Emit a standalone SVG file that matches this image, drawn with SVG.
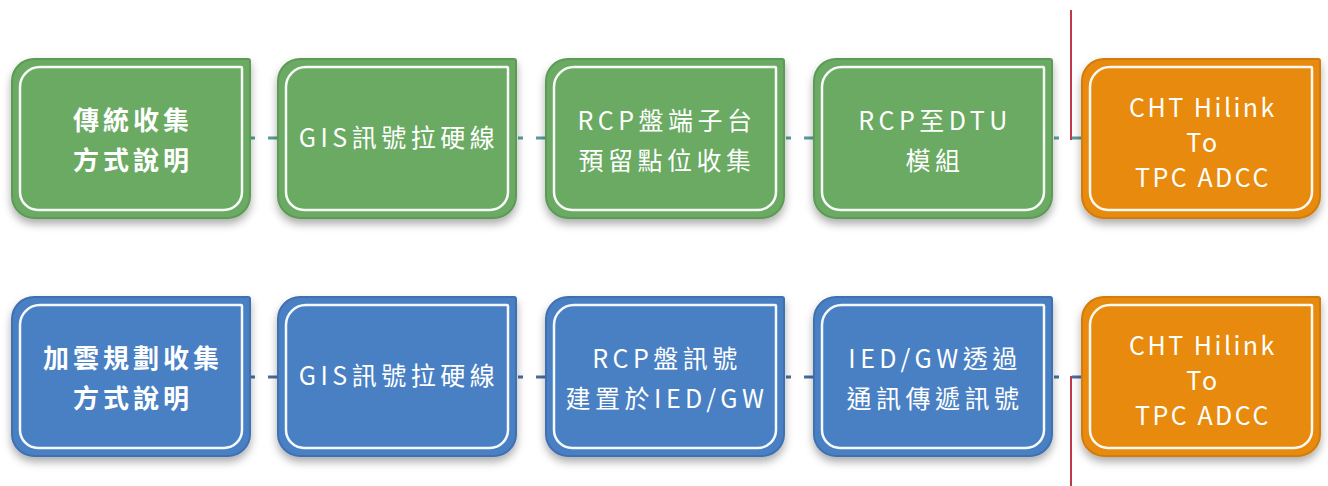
<svg xmlns="http://www.w3.org/2000/svg" width="1328" height="486" viewBox="0 0 1328 486">
<defs>
<filter id="sh" x="-10%" y="-10%" width="120%" height="130%">
<feDropShadow dx="0" dy="5" stdDeviation="4" flood-color="#000" flood-opacity="0.32"/>
</filter>
<path id="outer" d="M22,0 H236 Q238,0 238,2 V137 A22,22 0 0 1 216,159 H22 A22,22 0 0 1 0,137 V22 A22,22 0 0 1 22,0 Z"/>
<path id="inner" d="M28,8 H229 Q230,8 230,9 V133 A18,18 0 0 1 212,151 H26 A18,18 0 0 1 8,133 V28 A20,20 0 0 1 28,8 Z"/>
</defs>
<style>
.g{fill:#6aaa64;stroke:#5d9a57;stroke-width:2}
.b{fill:#4a80c4;stroke:#3f70b0;stroke-width:2}
.o{fill:#e88a0e;stroke:#d27b08;stroke-width:2}
.in{fill:none;stroke:#fff;stroke-width:2.5;opacity:0.95}
text{font-family:"Noto Sans CJK TC","Noto Sans",sans-serif;font-size:25px;fill:#fff;text-anchor:middle;letter-spacing:4.5px}
.bd{font-weight:bold;font-size:26px;letter-spacing:4px}
.ot{letter-spacing:2.5px}
.ct{stroke:#5a9c9c;stroke-width:3;stroke-dasharray:5,13,10,20}
.cb{stroke:#4a6c9c;stroke-width:3;stroke-dasharray:5,13,10,20}
.red{stroke:#c0394b;stroke-width:2}
</style>
<rect width="1328" height="486" fill="#fff"/>
<g id="connectors">
<line class="ct" x1="250" y1="138" x2="278" y2="138"/>
<line class="ct" x1="518" y1="138" x2="546" y2="138"/>
<line class="ct" x1="786" y1="138" x2="814" y2="138"/>
<line class="ct" x1="1054" y1="138" x2="1082" y2="138"/>
<line class="cb" x1="250" y1="377" x2="278" y2="377"/>
<line class="cb" x1="518" y1="377" x2="546" y2="377"/>
<line class="cb" x1="786" y1="377" x2="814" y2="377"/>
<line class="cb" x1="1054" y1="377" x2="1082" y2="377"/>
<line class="red" x1="1071" y1="10" x2="1071" y2="140"/>
<line class="red" x1="1071" y1="376" x2="1071" y2="486"/>
</g>
<g id="n1" transform="translate(12,59)"><use href="#outer" class="g" filter="url(#sh)"/><use href="#inner" class="in"/>
<text class="bd" x="121" y="71">傳統收集</text><text class="bd" x="121" y="111">方式說明</text></g>
<g id="n2" transform="translate(278,59)"><use href="#outer" class="g" filter="url(#sh)"/><use href="#inner" class="in"/>
<text x="121" y="88">GIS訊號拉硬線</text></g>
<g id="n3" transform="translate(546,59)"><use href="#outer" class="g" filter="url(#sh)"/><use href="#inner" class="in"/>
<text x="121" y="71">RCP盤端子台</text><text x="121" y="111">預留點位收集</text></g>
<g id="n4" transform="translate(814,59)"><use href="#outer" class="g" filter="url(#sh)"/><use href="#inner" class="in"/>
<text x="121" y="71">RCP至DTU</text><text x="121" y="111">模組</text></g>
<g id="n5" transform="translate(1082,59)"><use href="#outer" class="o" filter="url(#sh)"/><use href="#inner" class="in"/>
<text class="ot" x="121" y="58">CHT Hilink</text><text class="ot" x="121" y="93">To</text><text class="ot" x="121" y="128">TPC ADCC</text></g>
<g id="n6" transform="translate(12,297)"><use href="#outer" class="b" filter="url(#sh)"/><use href="#inner" class="in"/>
<text class="bd" x="121" y="71">加雲規劃收集</text><text class="bd" x="121" y="111">方式說明</text></g>
<g id="n7" transform="translate(278,297)"><use href="#outer" class="b" filter="url(#sh)"/><use href="#inner" class="in"/>
<text x="121" y="88">GIS訊號拉硬線</text></g>
<g id="n8" transform="translate(546,297)"><use href="#outer" class="b" filter="url(#sh)"/><use href="#inner" class="in"/>
<text x="121" y="71">RCP盤訊號</text><text x="121" y="111">建置於IED/GW</text></g>
<g id="n9" transform="translate(814,297)"><use href="#outer" class="b" filter="url(#sh)"/><use href="#inner" class="in"/>
<text x="121" y="71">IED/GW透過</text><text x="121" y="111">通訊傳遞訊號</text></g>
<g id="n10" transform="translate(1082,297)"><use href="#outer" class="o" filter="url(#sh)"/><use href="#inner" class="in"/>
<text class="ot" x="121" y="58">CHT Hilink</text><text class="ot" x="121" y="93">To</text><text class="ot" x="121" y="128">TPC ADCC</text></g>
</svg>
